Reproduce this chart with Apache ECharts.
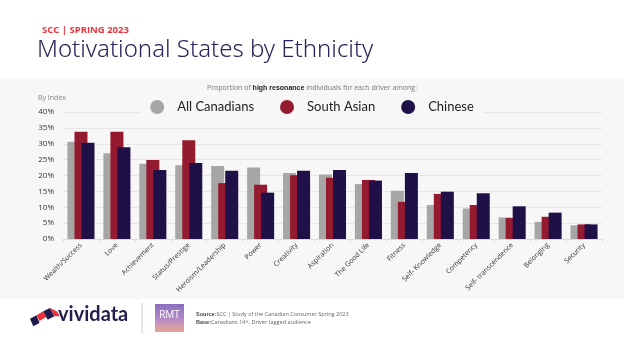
<!DOCTYPE html>
<html>
<head>
<meta charset="utf-8">
<script src="https://cdn.jsdelivr.net/npm/echarts@6/dist/echarts.min.js"></script>
<style>
  html, body { margin: 0; padding: 0; background: #fff; }
  #chart { width: 624px; height: 351px; }
</style>
</head>
<body>
<div id="chart"></div>
<script>
// Drivers (x categories)
const drivers = ['Wealth/Success', 'Love', 'Achievement', 'Status/Prestige', 'Heroism/Leadership',
  'Power', 'Creativity', 'Aspiration', 'The Good Life', 'Fitness', 'Self- Knowledge',
  'Competency', 'Self- transcendence', 'Belonging', 'Security'];

// % of high resonance individuals, per group
const allCanadians = [30.6, 27.0, 23.7, 23.2, 23.0, 22.5, 20.8, 20.3, 17.3, 15.2, 10.7, 9.6, 6.8, 5.4, 4.3];
const southAsian   = [33.8, 33.8, 24.9, 31.1, 17.6, 17.1, 20.1, 19.3, 18.6, 11.7, 14.2, 10.7, 6.6, 7.0, 4.6];
const chinese      = [30.3, 28.9, 21.7, 23.9, 21.5, 14.6, 21.5, 21.7, 18.4, 20.8, 14.9, 14.4, 10.3, 8.3, 4.6];

const seriesNames = ['All Canadians', 'South Asian', 'Chinese'];
const seriesColors = ['#a6a6a6', '#941a30', '#1f1047'];

const chart = echarts.init(document.getElementById('chart'));

const seriesData = [allCanadians, southAsian, chinese];

const option = {
  backgroundColor: '#ffffff',
  animation: false,
  color: seriesColors,
  textStyle: { fontFamily: 'Open Sans' },
  graphic: [
    // grey panel behind chart
    { type: 'rect', z: -10, shape: { x: 0, y: 78, width: 624, height: 221 }, style: { fill: '#f7f7f7' } },
    { type: 'text', left: 42, top: 25, style: { text: 'SCC | SPRING 2023', fill: '#e8343c', font: 'bold 9.5px "Open Sans"' } },
    { type: 'text', left: 37, top: 38, style: { text: 'Motivational States by Ethnicity', fill: '#26245a', font: '300 24px "Noto Sans"' } },
    {
      type: 'text', x: 312, y: 88,
      style: {
        text: 'Proportion of {b|high resonance} individuals for each driver among:',
        fill: '#777', fontSize: 7, fontFamily: 'Open Sans', align: 'center', verticalAlign: 'middle',
        rich: { b: { fontWeight: 'bold', fill: '#222', fontSize: 7 } }
      }
    },
    { type: 'text', left: 38, top: 94, style: { text: 'By Index', fill: '#888', fontSize: 7, fontFamily: 'Open Sans' } },
    // vividata logo
    { type: 'polygon', shape: { points: [[30, 318.7], [36.5, 315.3], [39.5, 323], [33.3, 326.3]] }, style: { fill: '#1f1a4d' } },
    { type: 'polygon', shape: { points: [[36.5, 315.3], [43.3, 311.3], [46.5, 317], [39.5, 321]] }, style: { fill: '#e8343c' } },
    { type: 'polygon', shape: { points: [[43.3, 311.3], [50, 308], [54.3, 316.3], [47.7, 319.7]] }, style: { fill: '#1f1a4d' } },
    { type: 'polygon', shape: { points: [[50, 308], [57, 311.5], [60, 316.3], [54.3, 316.3]] }, style: { fill: '#e8343c' } },
    { type: 'text', left: 58, top: 305, style: { text: 'vividata', fill: '#231f4d', font: 'bold 20px "Lato"' } },
    { type: 'line', shape: { x1: 142, y1: 303, x2: 142, y2: 334 }, style: { stroke: '#d0d0d0', lineWidth: 1 } },
    {
      type: 'rect', shape: { x: 155, y: 304, width: 29, height: 28 },
      style: {
        fill: new echarts.graphic.LinearGradient(0, 0, 0, 1, [
          { offset: 0, color: '#8a6fc0' }, { offset: 0.55, color: '#b78ac8' }, { offset: 1, color: '#e6a890' }
        ])
      }
    },
    { type: 'text', x: 169.5, y: 315, style: { text: 'RMT', fill: '#fff', font: '10px "Open Sans"', align: 'center', verticalAlign: 'middle' } },
    {
      type: 'text', left: 196, top: 311,
      style: {
        text: '{b|Source:}SCC | Study of the Canadian Consumer Spring 2023\n{b|Base:}Canadians 14+, Driver tagged audience',
        fill: '#666', fontSize: 5.5, lineHeight: 7.5, fontFamily: 'Open Sans',
        rich: { b: { fill: '#444', fontSize: 5.5, fontWeight: 'bold' } }
      }
    }
  ],
  legend: {
    data: seriesNames,
    left: 'center',
    top: 98,
    icon: 'circle',
    itemWidth: 14,
    itemHeight: 14,
    itemGap: 26,
    backgroundColor: '#f7f7f7',
    padding: [2, 10],
    textStyle: { fontSize: 13, color: '#222', fontFamily: 'Lato', padding: [0, 0, 0, 8] }
  },
  grid: { left: 63, right: 22, top: 112, bottom: 112, containLabel: false },
  xAxis: {
    type: 'category',
    data: drivers,
    axisLine: { lineStyle: { color: '#dcdcdc' } },
    axisTick: { show: true, lineStyle: { color: '#dcdcdc' }, length: 3 },
    axisLabel: { rotate: 45, fontSize: 7, color: '#333', margin: 5, interval: 0 }
  },
  yAxis: {
    type: 'value',
    min: 0,
    max: 40,
    interval: 5,
    axisLabel: { formatter: '{value}%', fontSize: 8, color: '#333', margin: 9 },
    axisLine: { show: false },
    axisTick: { show: false },
    splitLine: { lineStyle: { color: '#e6e6e6' } }
  },
  series: seriesNames.map((name, i) => ({
    name: name,
    type: 'bar',
    data: seriesData[i],
    barWidth: 13,
    barGap: '-46%',
    itemStyle: { color: seriesColors[i] }
  }))
};

chart.setOption(option);
</script>
</body>
</html>
